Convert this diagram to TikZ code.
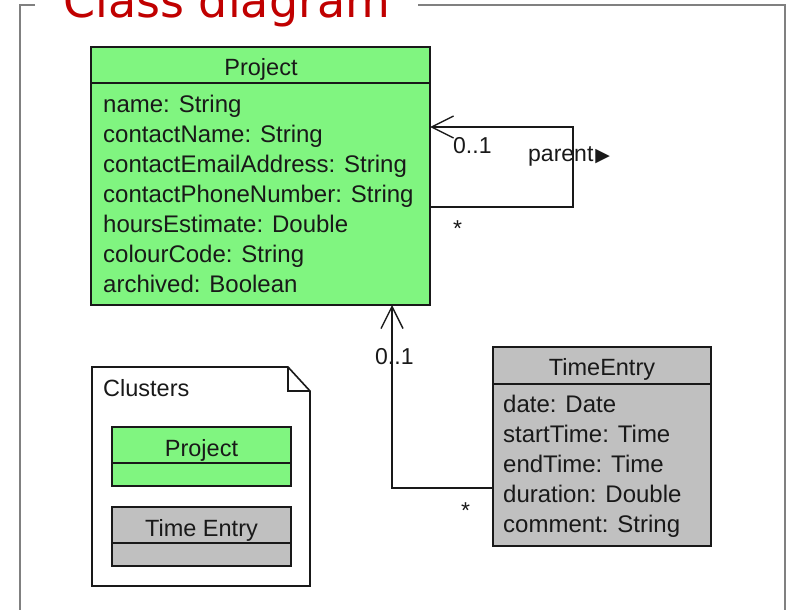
\documentclass[tikz,border=0pt]{standalone}
\usepackage{fontspec}
\setmainfont{Liberation Sans}
\newfontfamily\symfont{DejaVu Sans}
\newfontfamily\titlefont{DejaVu Sans}
\usetikzlibrary{arrows.meta}
\definecolor{pgreen}{RGB}{128,245,128}
\definecolor{pgray}{RGB}{192,192,192}
\definecolor{titlered}{RGB}{192,0,0}
\definecolor{framegray}{RGB}{128,128,128}
\definecolor{ink}{RGB}{25,25,25}
\tikzset{
  classbox/.style={draw=ink, line width=1.6pt, anchor=north west, inner sep=0pt, outer sep=0pt},
  sepline/.style={draw=ink, line width=1.6pt},
  attr/.style={font=\fontsize{24}{30}\selectfont, text=ink, inner sep=0pt, anchor=base west},
  hdr/.style={font=\fontsize{23.5}{30}\selectfont, text=ink, inner sep=0pt, anchor=base},
  lbl/.style={font=\fontsize{23}{30}\selectfont, text=ink, inner sep=0pt, anchor=base west},
  assoc/.style={draw=ink, line width=1.4pt, -{Straight Barb[length=22pt,width=22pt]}},
  framel/.style={draw=framegray, line width=2pt},
}
\begin{document}
\begin{tikzpicture}[x=1pt,y=-1pt]
\useasboundingbox (0,0) rectangle (787,610);
% frame and title
\draw[framel] (35,5) -- (20,5) -- (20,615);
\draw[framel] (418,5) -- (785,5) -- (785,615);
\node[anchor=base west, inner sep=0pt, text=titlered, font=\titlefont\fontsize{46}{50}\selectfont] (title) at (63,18) {Class diagram};

% Project class
\node[classbox, fill=pgreen, minimum width=339pt, minimum height=258pt] (project) at (91,47) {};
\draw[sepline] (91,83) -- (430,83);
\node[hdr] (ptitle) at (261,75) {Project};
\node[attr] (pa1) at (103,112) {name: String};
\node[attr] (pa2) at (103,142) {contactName: String};
\node[attr] (pa3) at (103,172) {contactEmailAddress: String};
\node[attr] (pa4) at (103,202) {contactPhoneNumber: String};
\node[attr] (pa5) at (103,232) {hoursEstimate: Double};
\node[attr] (pa6) at (103,262) {colourCode: String};
\node[attr] (pa7) at (103,292) {archived: Boolean};

% TimeEntry class
\node[classbox, fill=pgray, minimum width=218pt, minimum height=199pt] (timeentry) at (493,347) {};
\draw[sepline] (493,384) -- (711,384);
\node[hdr] (ttitle) at (602,375) {TimeEntry};
\node[attr] (ta1) at (503,412) {date: Date};
\node[attr] (ta2) at (503,442) {startTime: Time};
\node[attr] (ta3) at (503,472) {endTime: Time};
\node[attr] (ta4) at (503,502) {duration: Double};
\node[attr] (ta5) at (503,532) {comment: String};

% self association
\coordinate (selfx) at (573,0);
\coordinate (selfbot) at (0,207);
\coordinate (selftop) at (0,127);
\draw[assoc] (project.east |- selfbot) -- (selfx |- selfbot) -- (selfx |- selftop) -- (project.east |- selftop);
\node[lbl] (m1) at (453,153) {0..1};
\node[lbl] (role) at (528,161) {parent\hspace{2pt}{\symfont\fontsize{19}{20}\selectfont ▶}};
\node[lbl] (m2) at (453,236) {*};

% TimeEntry -> Project
\coordinate (upx) at (392,0);
\coordinate (tey) at (0,488);
\draw[assoc] (timeentry.west |- tey) -| (project.south -| upx);
\node[lbl] (m3) at (375,364) {0..1};
\node[lbl] (m4) at (461,518) {*};

% Clusters note
\draw[line width=1.6pt, draw=ink, fill=white] (92,367) -- (288,367) -- (310,391) -- (310,586) -- (92,586) -- cycle;
\draw[line width=1.6pt, draw=ink] (288,367) -- (288,391) -- (310,391);
\node[lbl, font=\fontsize{23.5}{30}\selectfont] (clusters) at (103,396) {Clusters};
\node[classbox, fill=pgreen, minimum width=179pt, minimum height=59pt] (cproject) at (112,427) {};
\draw[sepline] (112,463) -- (291,463);
\node[hdr] (cpt) at (201.5,456) {Project};
\node[classbox, fill=pgray, minimum width=179pt, minimum height=59pt] (ctime) at (112,507) {};
\draw[sepline] (112,543) -- (291,543);
\node[hdr] (ctt) at (201.5,536) {Time Entry};
\end{tikzpicture}
\end{document}
